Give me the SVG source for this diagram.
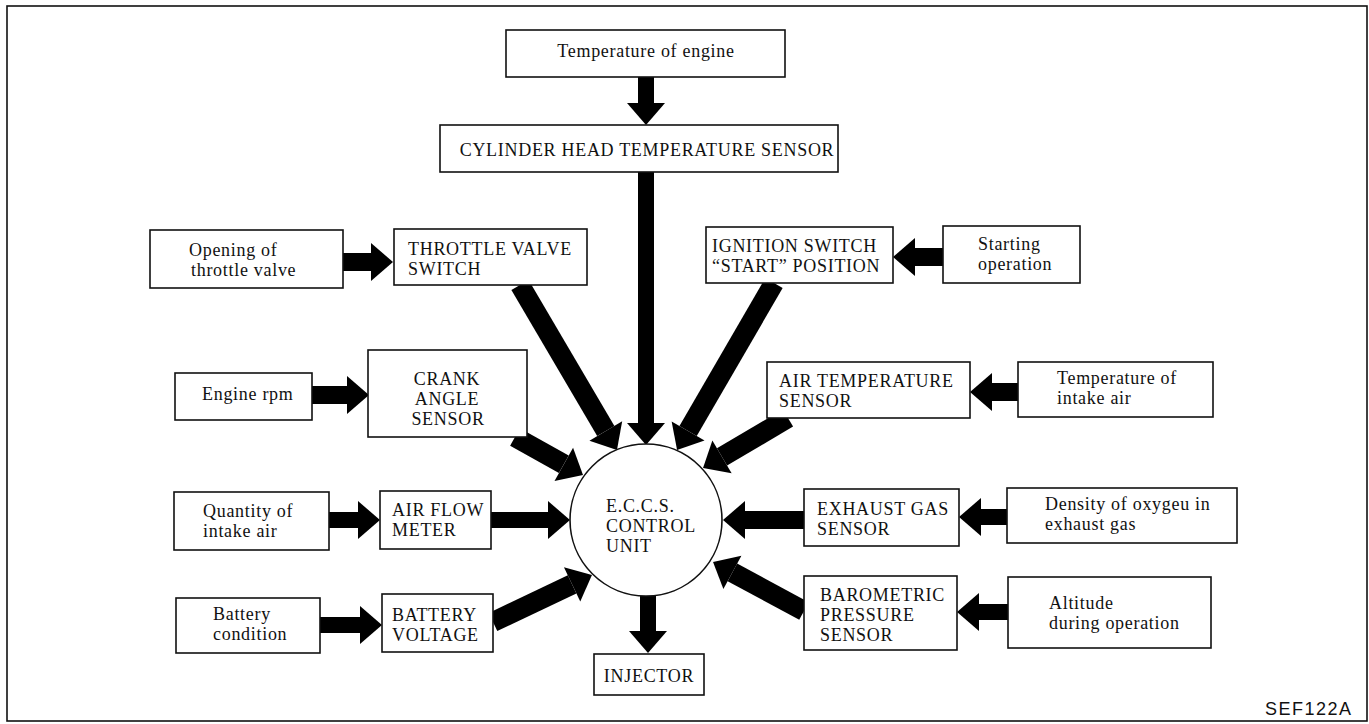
<svg xmlns="http://www.w3.org/2000/svg" width="1369" height="724" viewBox="0 0 1369 724">
<style>
.box{fill:#fff;stroke:#111;stroke-width:1.6}
.t{font-family:"Liberation Serif","Times New Roman",serif;font-size:18px;letter-spacing:0.7px;fill:#111}
.m{text-anchor:middle}
.c{fill:none;stroke:#000;stroke-linecap:butt}
.w16{stroke-width:16}
.w18{stroke-width:18}
.w20{stroke-width:20}
</style>
<defs>
<marker id="ah" markerUnits="userSpaceOnUse" markerWidth="23" markerHeight="38" refX="0" refY="19" orient="auto" overflow="visible">
<path d="M0,0 L22,19 L0,38 Z" fill="#000"/>
</marker>
</defs>
<rect x="7" y="6" width="1360" height="715" fill="#fff" stroke="#111" stroke-width="1.6"/>
<g id="connectors">
<line class="c w16" x1="646" y1="77" x2="646" y2="103" marker-end="url(#ah)"/>
<line class="c w16" x1="646" y1="172" x2="646" y2="423" marker-end="url(#ah)"/>
<line class="c w16" x1="648" y1="596" x2="648" y2="631" marker-end="url(#ah)"/>
<line class="c w18" x1="343" y1="262" x2="371" y2="262" marker-end="url(#ah)"/>
<line class="c w18" x1="312" y1="395" x2="347" y2="395" marker-end="url(#ah)"/>
<line class="c w16" x1="329" y1="520" x2="358" y2="520" marker-end="url(#ah)"/>
<line class="c w16" x1="491" y1="520" x2="548" y2="520" marker-end="url(#ah)"/>
<line class="c w16" x1="320" y1="625" x2="360" y2="625" marker-end="url(#ah)"/>
<line class="c w20" x1="493" y1="622" x2="572.1" y2="584.4" marker-end="url(#ah)"/>
<line class="c w18" x1="943" y1="257" x2="915" y2="257" marker-end="url(#ah)"/>
<line class="c w20" x1="774" y1="283" x2="688.1" y2="431" marker-end="url(#ah)"/>
<line class="c w18" x1="1018" y1="392" x2="992" y2="392" marker-end="url(#ah)"/>
<line class="c w20" x1="788" y1="418" x2="722" y2="456.8" marker-end="url(#ah)"/>
<line class="c w16" x1="1007" y1="517" x2="981" y2="517" marker-end="url(#ah)"/>
<line class="c w18" x1="804" y1="520" x2="745" y2="520" marker-end="url(#ah)"/>
<line class="c w16" x1="1008" y1="612" x2="979" y2="612" marker-end="url(#ah)"/>
<line class="c w20" x1="804" y1="611" x2="732.4" y2="572.4" marker-end="url(#ah)"/>
<line class="c w20" x1="520" y1="285" x2="605.8" y2="431" marker-end="url(#ah)"/>
<line class="c w20" x1="515" y1="437" x2="563.8" y2="464.3" marker-end="url(#ah)"/>
</g>
<g id="temp_engine"><rect class="box" x="506" y="30" width="279" height="47"/><text class="t m" x="646" y="57">Temperature of engine</text></g>
<g id="cyl_head_sensor"><rect class="box" x="440" y="125" width="398" height="47"/><text class="t m" x="647" y="156">CYLINDER HEAD TEMPERATURE SENSOR</text></g>
<g id="opening_throttle"><rect class="box" x="150" y="230" width="193" height="58"/><text class="t" x="189" y="256">Opening of</text><text class="t" x="191" y="276">throttle valve</text></g>
<g id="throttle_switch"><rect class="box" x="394" y="229" width="193" height="56"/><text class="t" x="408" y="255">THROTTLE VALVE</text><text class="t" x="408" y="275">SWITCH</text></g>
<g id="ignition_switch"><rect class="box" x="706" y="227" width="187" height="56"/><text class="t" x="712" y="252">IGNITION SWITCH</text><text class="t" x="712" y="272">“START” POSITION</text></g>
<g id="starting_operation"><rect class="box" x="943" y="226" width="137" height="57"/><text class="t" x="978" y="250">Starting</text><text class="t" x="978" y="270">operation</text></g>
<g id="engine_rpm"><rect class="box" x="175" y="373" width="137" height="47"/><text class="t" x="202" y="400">Engine rpm</text></g>
<g id="crank_angle"><rect class="box" x="368" y="350" width="159" height="87"/><text class="t m" x="447" y="385">CRANK</text><text class="t m" x="447" y="405">ANGLE</text><text class="t m" x="448" y="425">SENSOR</text></g>
<g id="air_temp_sensor"><rect class="box" x="767" y="362" width="203" height="56"/><text class="t" x="779" y="387">AIR TEMPERATURE</text><text class="t" x="779" y="407">SENSOR</text></g>
<g id="temp_intake"><rect class="box" x="1018" y="362" width="195" height="55"/><text class="t" x="1057" y="384">Temperature of</text><text class="t" x="1057" y="404">intake air</text></g>
<g id="quantity_intake"><rect class="box" x="174" y="492" width="155" height="58"/><text class="t" x="203" y="517">Quantity of</text><text class="t" x="203" y="537">intake air</text></g>
<g id="air_flow_meter"><rect class="box" x="380" y="491" width="111" height="58"/><text class="t" x="392" y="516">AIR FLOW</text><text class="t" x="392" y="536">METER</text></g>
<g id="eccs"><circle cx="646" cy="520" r="76" fill="#fff" stroke="#111" stroke-width="1.6"/><text class="t" x="606" y="512">E.C.C.S.</text><text class="t" x="606" y="532">CONTROL</text><text class="t" x="606" y="552">UNIT</text></g>
<g id="exhaust_sensor"><rect class="box" x="804" y="489" width="155" height="57"/><text class="t" x="817" y="515">EXHAUST GAS</text><text class="t" x="817" y="535">SENSOR</text></g>
<g id="density_oxygen"><rect class="box" x="1007" y="488" width="230" height="55"/><text class="t" x="1045" y="510">Density of oxygeu in</text><text class="t" x="1045" y="530">exhaust gas</text></g>
<g id="battery_condition"><rect class="box" x="176" y="598" width="144" height="55"/><text class="t" x="213" y="620">Battery</text><text class="t" x="213" y="640">condition</text></g>
<g id="battery_voltage"><rect class="box" x="382" y="594" width="111" height="58"/><text class="t" x="392" y="621">BATTERY</text><text class="t" x="392" y="641">VOLTAGE</text></g>
<g id="barometric_sensor"><rect class="box" x="804" y="576" width="153" height="74"/><text class="t" x="820" y="601">BAROMETRIC</text><text class="t" x="820" y="621">PRESSURE</text><text class="t" x="820" y="641">SENSOR</text></g>
<g id="altitude"><rect class="box" x="1008" y="577" width="203" height="71"/><text class="t" x="1049" y="609">Altitude</text><text class="t" x="1049" y="629">during operation</text></g>
<g id="injector"><rect class="box" x="594" y="654" width="110" height="41"/><text class="t m" x="649" y="682">INJECTOR</text></g>
<text x="1265" y="715" style="font-family:'Liberation Sans',Arial,sans-serif;font-size:18px;letter-spacing:1.5px;fill:#111">SEF122A</text>
</svg>
